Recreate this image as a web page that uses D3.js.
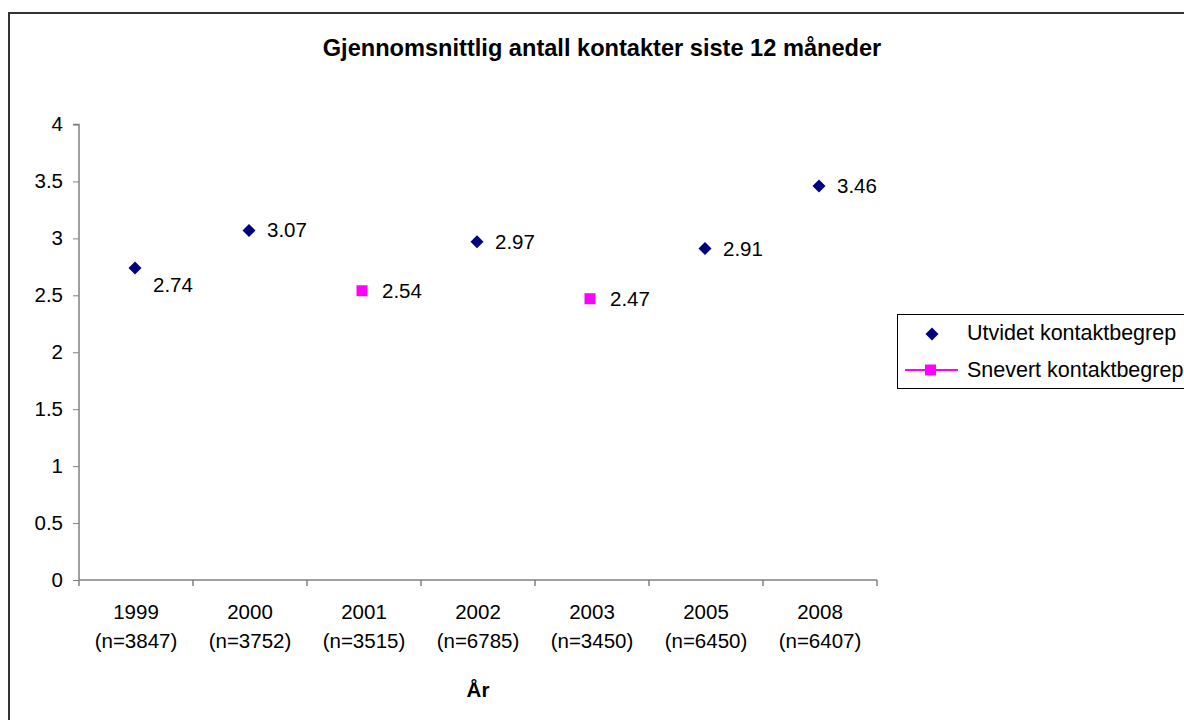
<!DOCTYPE html>
<html><head><meta charset="utf-8">
<script src="https://cdn.jsdelivr.net/npm/d3@7"></script>
<style>body{margin:0;background:#fff;}svg{display:block;font-family:"Liberation Sans",Arial,sans-serif;}</style>
</head><body><svg id="c" width="1184" height="720"></svg>
<script>
const categories = ["1999", "2000", "2001", "2002", "2003", "2005", "2008"];
const sampleSizes = ["(n=3847)", "(n=3752)", "(n=3515)", "(n=6785)", "(n=3450)", "(n=6450)", "(n=6407)"];
const utvidet = [2.74, 3.07, null, 2.97, null, 2.91, 3.46];
const snevert = [null, null, 2.54, null, 2.47, null, null];
const yTicks = [0, 0.5, 1, 1.5, 2, 2.5, 3, 3.5, 4];
const seriesNames = ["Utvidet kontaktbegrep", "Snevert kontaktbegrep"];
const title = "Gjennomsnittlig antall kontakter siste 12 måneder";
const xTitle = "År";

const FS = 20.5;
const svg = d3.select("#c");
// outer chart border
svg.append("rect").attr("x", 9).attr("y", 13).attr("width", 1200).attr("height", 720)
  .attr("fill", "#fff").attr("stroke", "#333").attr("stroke-width", 2);

const L = 79, R = 877, T = 124.5, B = 580;
const x = d3.scaleBand().domain(categories).range([L, R]);
const y = d3.scaleLinear().domain([0, 4]).range([B, T]);

svg.append("text").attr("x", 602).attr("y", 56).attr("text-anchor", "middle")
  .attr("font-weight", "bold").attr("font-size", 23.6).text(title);

// y axis
const ya = svg.append("g").attr("transform", `translate(${L},0)`)
  .call(d3.axisLeft(y).tickValues(yTicks).tickSize(6).tickPadding(10).tickFormat(d3.format("")));
ya.select(".domain").attr("stroke", "#808080").attr("stroke-width", 1.5).attr("d", `M-6,${T}H0V${B}`);
ya.selectAll(".tick line").attr("stroke", "#808080");
ya.selectAll("text").attr("font-size", FS).attr("fill", "#000").attr("dy", "0.3em")
  .attr("font-family", "Liberation Sans, Arial, sans-serif");

// x axis
const xa = svg.append("g").attr("transform", `translate(0,${B})`);
xa.append("path").attr("d", `M${L},0H${R}`).attr("stroke", "#808080").attr("stroke-width", 1.5);
const edges = categories.map(c => x(c)).concat([R]);
xa.selectAll("line.t").data(edges).join("line").attr("class", "t")
  .attr("x1", d => d).attr("x2", d => d).attr("y1", 0).attr("y2", 6).attr("stroke", "#808080").attr("stroke-width", 1.5);
xa.selectAll("text.cat").data(categories).join("text").attr("class", "cat")
  .attr("x", d => x(d) + x.bandwidth() / 2).attr("y", 39).attr("text-anchor", "middle")
  .attr("font-size", FS).text(d => d);
xa.selectAll("text.n").data(sampleSizes).join("text").attr("class", "n")
  .attr("x", (d, i) => x(categories[i]) + x.bandwidth() / 2).attr("y", 68).attr("text-anchor", "middle")
  .attr("font-size", FS).text(d => d);
svg.append("text").attr("x", 478).attr("y", 697).attr("text-anchor", "middle")
  .attr("font-weight", "bold").attr("font-size", FS).text(xTitle);

const cx = i => x(categories[i]) + x.bandwidth() / 2;
const dia = "M0,-6.5L6.5,0L0,6.5L-6.5,0Z";

// Utvidet points
const u = categories.map((c, i) => ({i, v: utvidet[i]})).filter(d => d.v != null);
svg.selectAll("path.u").data(u).join("path").attr("class", "u")
  .attr("d", dia)
  .attr("transform", d => `translate(${cx(d.i) - 1},${y(d.v)})`).attr("fill", "#000080");
svg.selectAll("text.ul").data(u).join("text").attr("class", "ul")
  .attr("x", d => cx(d.i) + 17)
  .attr("y", d => y(d.v) + (d.i === 0 ? 24 : 7))
  .attr("font-size", FS).text(d => d.v.toFixed(2));

// Snevert points
const s = categories.map((c, i) => ({i, v: snevert[i]})).filter(d => d.v != null);
svg.selectAll("rect.s").data(s).join("rect").attr("class", "s")
  .attr("x", d => cx(d.i) - 7.5).attr("y", d => y(d.v) - 5.5).attr("width", 11).attr("height", 11)
  .attr("fill", "#ff00ff");
svg.selectAll("text.sl").data(s).join("text").attr("class", "sl")
  .attr("x", d => cx(d.i) + 18).attr("y", d => y(d.v) + 7)
  .attr("font-size", FS).text(d => d.v.toFixed(2));

// legend
const lg = svg.append("g");
lg.append("rect").attr("x", 897.5).attr("y", 314.5).attr("width", 400).attr("height", 74)
  .attr("fill", "#fff").attr("stroke", "#000").attr("stroke-width", 1);
lg.append("path").attr("d", dia).attr("transform", "translate(932,334)").attr("fill", "#000080");
lg.append("line").attr("x1", 905).attr("x2", 958).attr("y1", 370).attr("y2", 370).attr("stroke", "#ff00ff").attr("stroke-width", 2);
lg.append("rect").attr("x", 925).attr("y", 364.5).attr("width", 11).attr("height", 11).attr("fill", "#ff00ff");
lg.selectAll("text").data(seriesNames).join("text")
  .attr("x", 967).attr("y", (d, i) => 340 + i * 37).attr("font-size", 21.5).text(d => d);
</script></body></html>
